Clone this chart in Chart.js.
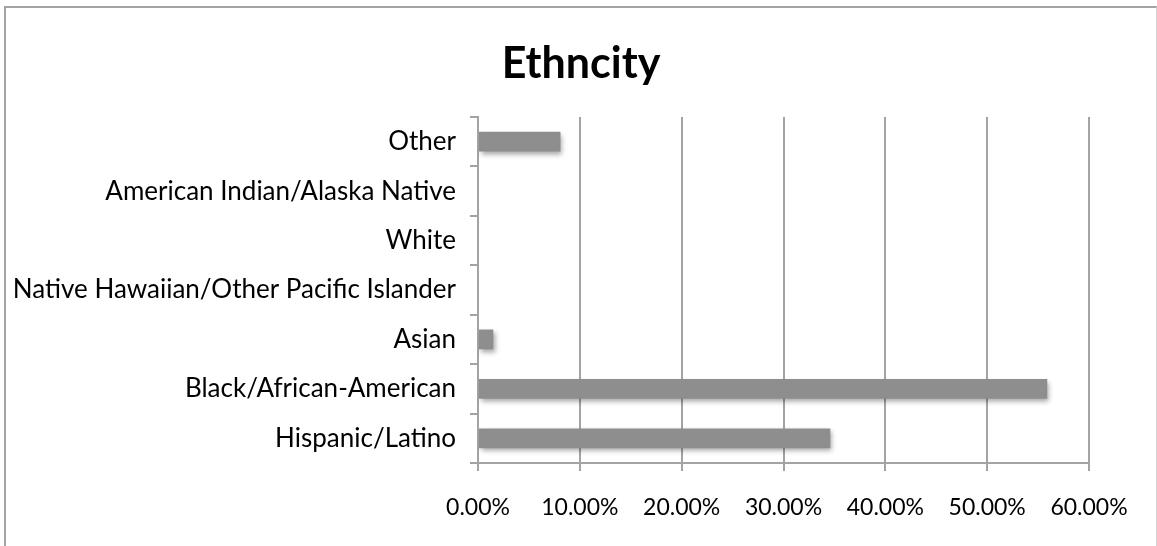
<!DOCTYPE html>
<html>
<head>
<meta charset="utf-8">
<script src="https://cdn.jsdelivr.net/npm/chart.js@4/dist/chart.umd.min.js"></script>
<style>
  html, body { margin: 0; padding: 0; background: #fff; }
  #wrap { position: relative; width: 1157px; height: 546px; overflow: hidden; }
  #frame {
    position: absolute; left: 4px; top: 6px; width: 1150px; height: 600px;
    border-left: 2px solid #a3a3a3; border-top: 2px solid #a3a3a3; border-right: 1px solid #d4d4d4;
  }
  canvas { position: absolute; left: 0; top: 0; }
</style>
</head>
<body>
<div id="wrap">
  <div id="frame"></div>
  <canvas id="ethnicityChart" width="1157" height="546"></canvas>
</div>
<script>
// categories listed top to bottom as they appear in the chart
const categories = [
    'Other',
    'American Indian/Alaska Native',
    'White',
    'Native Hawaiian/Other Pacific Islander',
    'Asian',
    'Black/African-American',
    'Hispanic/Latino'
];
const shares = [0.081, 0, 0, 0, 0.015, 0.559, 0.346];
const xTicks = [0, 0.1, 0.2, 0.3, 0.4, 0.5, 0.6];

const gridGrey = '#a3a3a3';

// soft drop shadow under the bars, like the spreadsheet export
const barShadow = {
    id: 'barShadow',
    beforeDatasetsDraw(chart) {
        const ctx = chart.ctx;
        ctx.save();
        ctx.shadowColor = 'rgba(0, 0, 0, 0.35)';
        ctx.shadowBlur = 5;
        ctx.shadowOffsetX = 2;
        ctx.shadowOffsetY = 3;
    },
    afterDatasetsDraw(chart) {
        chart.ctx.restore();
    }
};

// centre the title over the whole frame, not just the padded area
const centreTitle = {
    id: 'centreTitle',
    afterLayout(chart) {
        if (chart.titleBlock) {
            chart.titleBlock.left = 5;
            chart.titleBlock.right = 1157;
        }
    }
};

Chart.defaults.font.family = 'Lato, "Open Sans", sans-serif';
Chart.defaults.color = '#000';

const ctx = document.getElementById('ethnicityChart').getContext('2d');

new Chart(ctx, {
    type: 'bar',
    data: {
        labels: categories,
        datasets: [{
            label: 'Ethncity',
            data: shares,
            backgroundColor: '#8e8e8e',
            borderWidth: 0,
            barPercentage: 0.4,
            categoryPercentage: 1.0
        }]
    },
    options: {
        indexAxis: 'y',
        responsive: false,
        animation: false,
        layout: {
            padding: { left: 0, right: 68, top: 20, bottom: 0 }
        },
        plugins: {
            legend: { display: false },
            tooltip: { enabled: false },
            title: {
                display: true,
                text: 'Ethncity',
                font: { size: 43, weight: 'bold' },
                padding: { top: 18, bottom: 27.4 }
            }
        },
        scales: {
            x: {
                min: 0,
                max: 0.6,
                afterBuildTicks: function(scale) {
                    scale.ticks = xTicks.map(v => ({ value: v }));
                },
                afterFit: function(scale) {
                    scale.height = 83;
                },
                grid: {
                    color: gridGrey,
                    lineWidth: 2,
                    tickLength: 8
                },
                border: { color: gridGrey, width: 2 },
                ticks: {
                    font: { size: 23 },
                    padding: 23,
                    maxRotation: 0,
                    callback: function(value) {
                        return (value * 100).toFixed(2) + '%';
                    }
                }
            },
            y: {
                afterFit: function(scale) {
                    scale.width = 478;
                },
                grid: {
                    offset: true,
                    drawOnChartArea: false,
                    color: gridGrey,
                    lineWidth: 2,
                    tickLength: 8
                },
                border: { color: gridGrey, width: 2 },
                ticks: {
                    font: { size: 26 },
                    padding: 14
                }
            }
        }
    },
    plugins: [barShadow, centreTitle]
});
</script>
</body>
</html>
